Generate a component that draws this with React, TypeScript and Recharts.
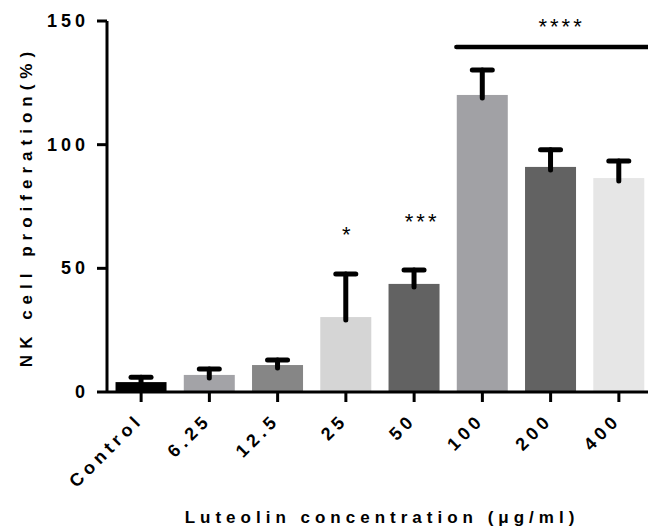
import { BarChart, Bar, XAxis, YAxis, ReferenceLine, ReferenceDot } from "recharts";

const categories = ["Control", "6.25", "12.5", "25", "50", "100", "200", "400"];
const means = [4, 6.9, 10.9, 30.3, 43.7, 120.1, 91, 86.5];
const errors = [2, 2.4, 2, 17.4, 5.6, 10.1, 6.9, 6.9];
const colors = ["#000000", "#a3a3a7", "#868686", "#d5d5d5", "#626262", "#a1a1a5", "#626262", "#e6e6e6"];
const yTicks = [0, 50, 100, 150];

// significance marks
const starCats = ["25", "50", "200"];
const starLevels = [65.5, 70.8, 149.6];
const starTexts = ["*", "***", "****"];
const starShift = [2, 8, 11];
const sigFrom = "100";
const sigTo = "400";
const sigLevel = 139.5;

const data = categories.map((name, i) => ({ name, value: means[i], err: errors[i], color: colors[i] }));

const font = "'Liberation Sans', Arial, sans-serif";

function BarWithError(props: any) {
  const { x, y, width, height, payload } = props;
  const k = height / payload.value;
  const cx = x + width / 2;
  const top = y - payload.err * k;
  return (
    <g>
      <rect x={x} y={y} width={width} height={height} fill={payload.color} />
      <line x1={cx} y1={y + 3} x2={cx} y2={top} stroke="#000" strokeWidth={5} strokeLinecap="round" />
      <line x1={cx - 10} y1={top} x2={cx + 10} y2={top} stroke="#000" strokeWidth={5} strokeLinecap="round" />
    </g>
  );
}

function XTick({ x, y, payload }: any) {
  return (
    <text
      transform={`translate(${x + 3},${y + 17}) rotate(-45)`}
      textAnchor="end"
      fill="#000"
      style={{ fontFamily: font, fontWeight: 700, fontSize: 18, letterSpacing: 4.5 }}
    >
      {payload.value}
    </text>
  );
}

function YTick({ x, y, payload }: any) {
  return (
    <text x={x - 1} y={y + 6} textAnchor="end" fill="#000" style={{ fontFamily: font, fontWeight: 700, fontSize: 18, letterSpacing: 4 }}>
      {payload.value}
    </text>
  );
}

function SigLine(props: any) {
  const { x1, y1, x2, y2 } = props;
  return <line x1={x1 - 26} y1={y1} x2={x2 + 30} y2={y2} stroke="#000" strokeWidth={4.5} strokeLinecap="round" />;
}

function Stars(text: string, shift: number) {
  return (props: any) => (
    <text x={props.cx + shift} y={props.cy + 12} textAnchor="middle" fill="#000" style={{ fontFamily: font, fontSize: 22, letterSpacing: 3 }}>
      {text}
    </text>
  );
}

export default function App() {
  return (
    <div style={{ position: "absolute", left: 0, top: 0, width: 648, height: 532, overflow: "hidden", background: "#fff" }}>
      <BarChart width={660} height={532} data={data} margin={{ top: 21, right: 7, left: 0, bottom: 0 }} barCategoryGap="12.5%">
        <YAxis
          width={107}
          domain={[0, 150]}
          ticks={yTicks}
          tickSize={10}
          tickMargin={7}
          stroke="#000"
          strokeWidth={3}
          axisLine
          tickLine
          tick={<YTick />}
          label={{
            content: (p: any) => (
              <text
                transform={`translate(32,${p.viewBox.y + p.viewBox.height / 2}) rotate(-90)`}
                textAnchor="middle"
                fill="#000"
                style={{ fontFamily: font, fontWeight: 700, fontSize: 17, letterSpacing: 6 }}
              >
                NK cell proiferation(%)
              </text>
            ),
          }}
        />
        <XAxis
          dataKey="name"
          height={140}
          tickSize={10}
          tickMargin={2}
          stroke="#000"
          strokeWidth={3}
          axisLine
          tickLine
          tick={<XTick />}
          interval={0}
          label={{
            content: (p: any) => (
              <text
                x={p.viewBox.x + p.viewBox.width / 2 + 2}
                y={p.viewBox.y + 131}
                textAnchor="middle"
                fill="#000"
                style={{ fontFamily: font, fontWeight: 700, fontSize: 17, letterSpacing: 5 }}
              >
                Luteolin concentration (μg/ml)
              </text>
            ),
          }}
        />
        <Bar dataKey="value" shape={<BarWithError />} isAnimationActive={false} />
        <ReferenceLine segment={[{ x: sigFrom, y: sigLevel }, { x: sigTo, y: sigLevel }]} shape={<SigLine />} ifOverflow="visible" />
        {starCats.map((c, i) => (
          <ReferenceDot key={c} x={c} y={starLevels[i]} r={0} ifOverflow="visible" shape={Stars(starTexts[i], starShift[i])} />
        ))}
      </BarChart>
    </div>
  );
}
